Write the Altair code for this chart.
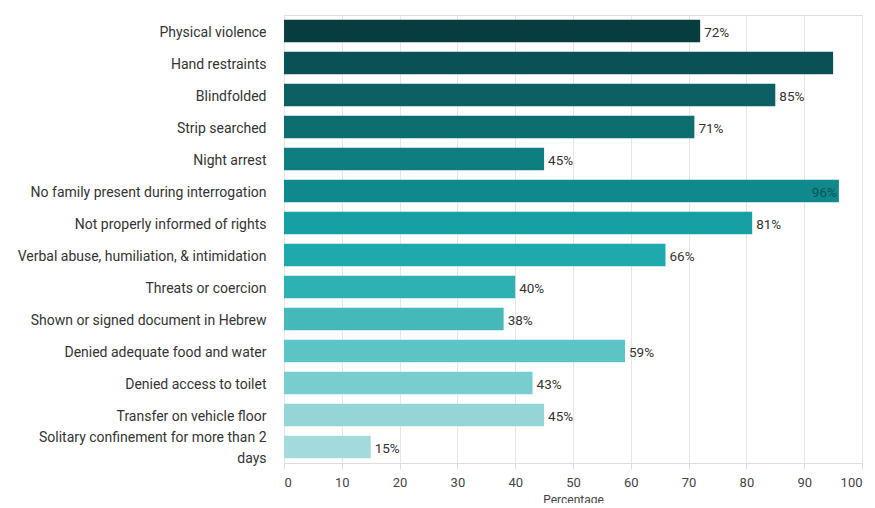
import altair as alt
import pandas as pd

categories = [
    "Physical violence",
    "Hand restraints",
    "Blindfolded",
    "Strip searched",
    "Night arrest",
    "No family present during interrogation",
    "Not properly informed of rights",
    "Verbal abuse, humiliation, & intimidation",
    "Threats or coercion",
    "Shown or signed document in Hebrew",
    "Denied adequate food and water",
    "Denied access to toilet",
    "Transfer on vehicle floor",
    "Solitary confinement for more than 2 days",
]
values = [72, 95, 85, 71, 45, 96, 81, 66, 40, 38, 59, 43, 45, 15]
colors = [
    "#073d3f", "#0a5155", "#0c5f62", "#0d6e70", "#0f7e80", "#10898c", "#16a0a3",
    "#1eaaac", "#2eb1b3", "#45b8ba", "#5dc4c6", "#78cdcf", "#95d5d8", "#a3dadc",
]

df = pd.DataFrame({"category": categories, "value": values})
df["label"] = df["value"].astype(str) + "%"
df["inside"] = df["value"] >= 90

long_label = "Solitary confinement for more than 2 days"

y_enc = alt.Y(
    "category:N",
    sort=categories,
    title=None,
    scale=alt.Scale(paddingInner=0.3, paddingOuter=0.15),
    axis=alt.Axis(
        domain=False,
        ticks=False,
        labelPadding=18,
        labelFontSize=14,
        labelColor="#333333",
        labelFont="Roboto",
        labelLimit=400,
        labelLineHeight=21,
        labelOffset={"condition": {"test": f"datum.value == '{long_label}'", "value": -9}, "value": 1.5},
        labelExpr=f"datum.label == '{long_label}' ? ['Solitary confinement for more than 2', 'days'] : datum.label",
    ),
)
x_enc = alt.X(
    "value:Q",
    title="Percentage",
    scale=alt.Scale(domain=[0, 100]),
    axis=alt.Axis(
        values=list(range(0, 101, 10)),
        grid=True,
        gridColor="#e6e6e6",
        domainColor="#dddddd",
        tickColor="#dddddd",
        tickSize=6,
        labelFontSize=13,
        labelColor="#444444",
        labelFont="Roboto",
        labelPadding=7,
        titleFont="Roboto",
        titleFontSize=12,
        titleFontWeight="normal",
        titleColor="#444444",
        titlePadding=5,
    ),
)

bars = alt.Chart(df).mark_bar().encode(
    y=y_enc,
    x=x_enc,
    color=alt.Color("category:N", scale=alt.Scale(domain=categories, range=colors), legend=None),
)

outside = alt.Chart(df).transform_filter("!datum.inside").mark_text(
    align="left", baseline="middle", dx=4, dy=2, fontSize=13.5, font="Roboto", color="#333333"
).encode(y=alt.Y("category:N", sort=categories), x="value:Q", text="label:N")

inside = alt.Chart(df).transform_filter("datum.inside").mark_text(
    align="right", baseline="middle", dx=-2, dy=2, fontSize=13.5, font="Roboto", color="#0b5356"
).encode(y=alt.Y("category:N", sort=categories), x="value:Q", text="label:N")

chart = (bars + outside + inside).properties(
    width=578,
    height=448,
    autosize=alt.AutoSizeParams(type="none"),
    padding={"left": 276, "top": 7, "right": 5, "bottom": 40},
).configure_view(stroke=None).configure(background="white")

chart.save("out.html", embed_options={"renderer": "svg", "actions": False})
